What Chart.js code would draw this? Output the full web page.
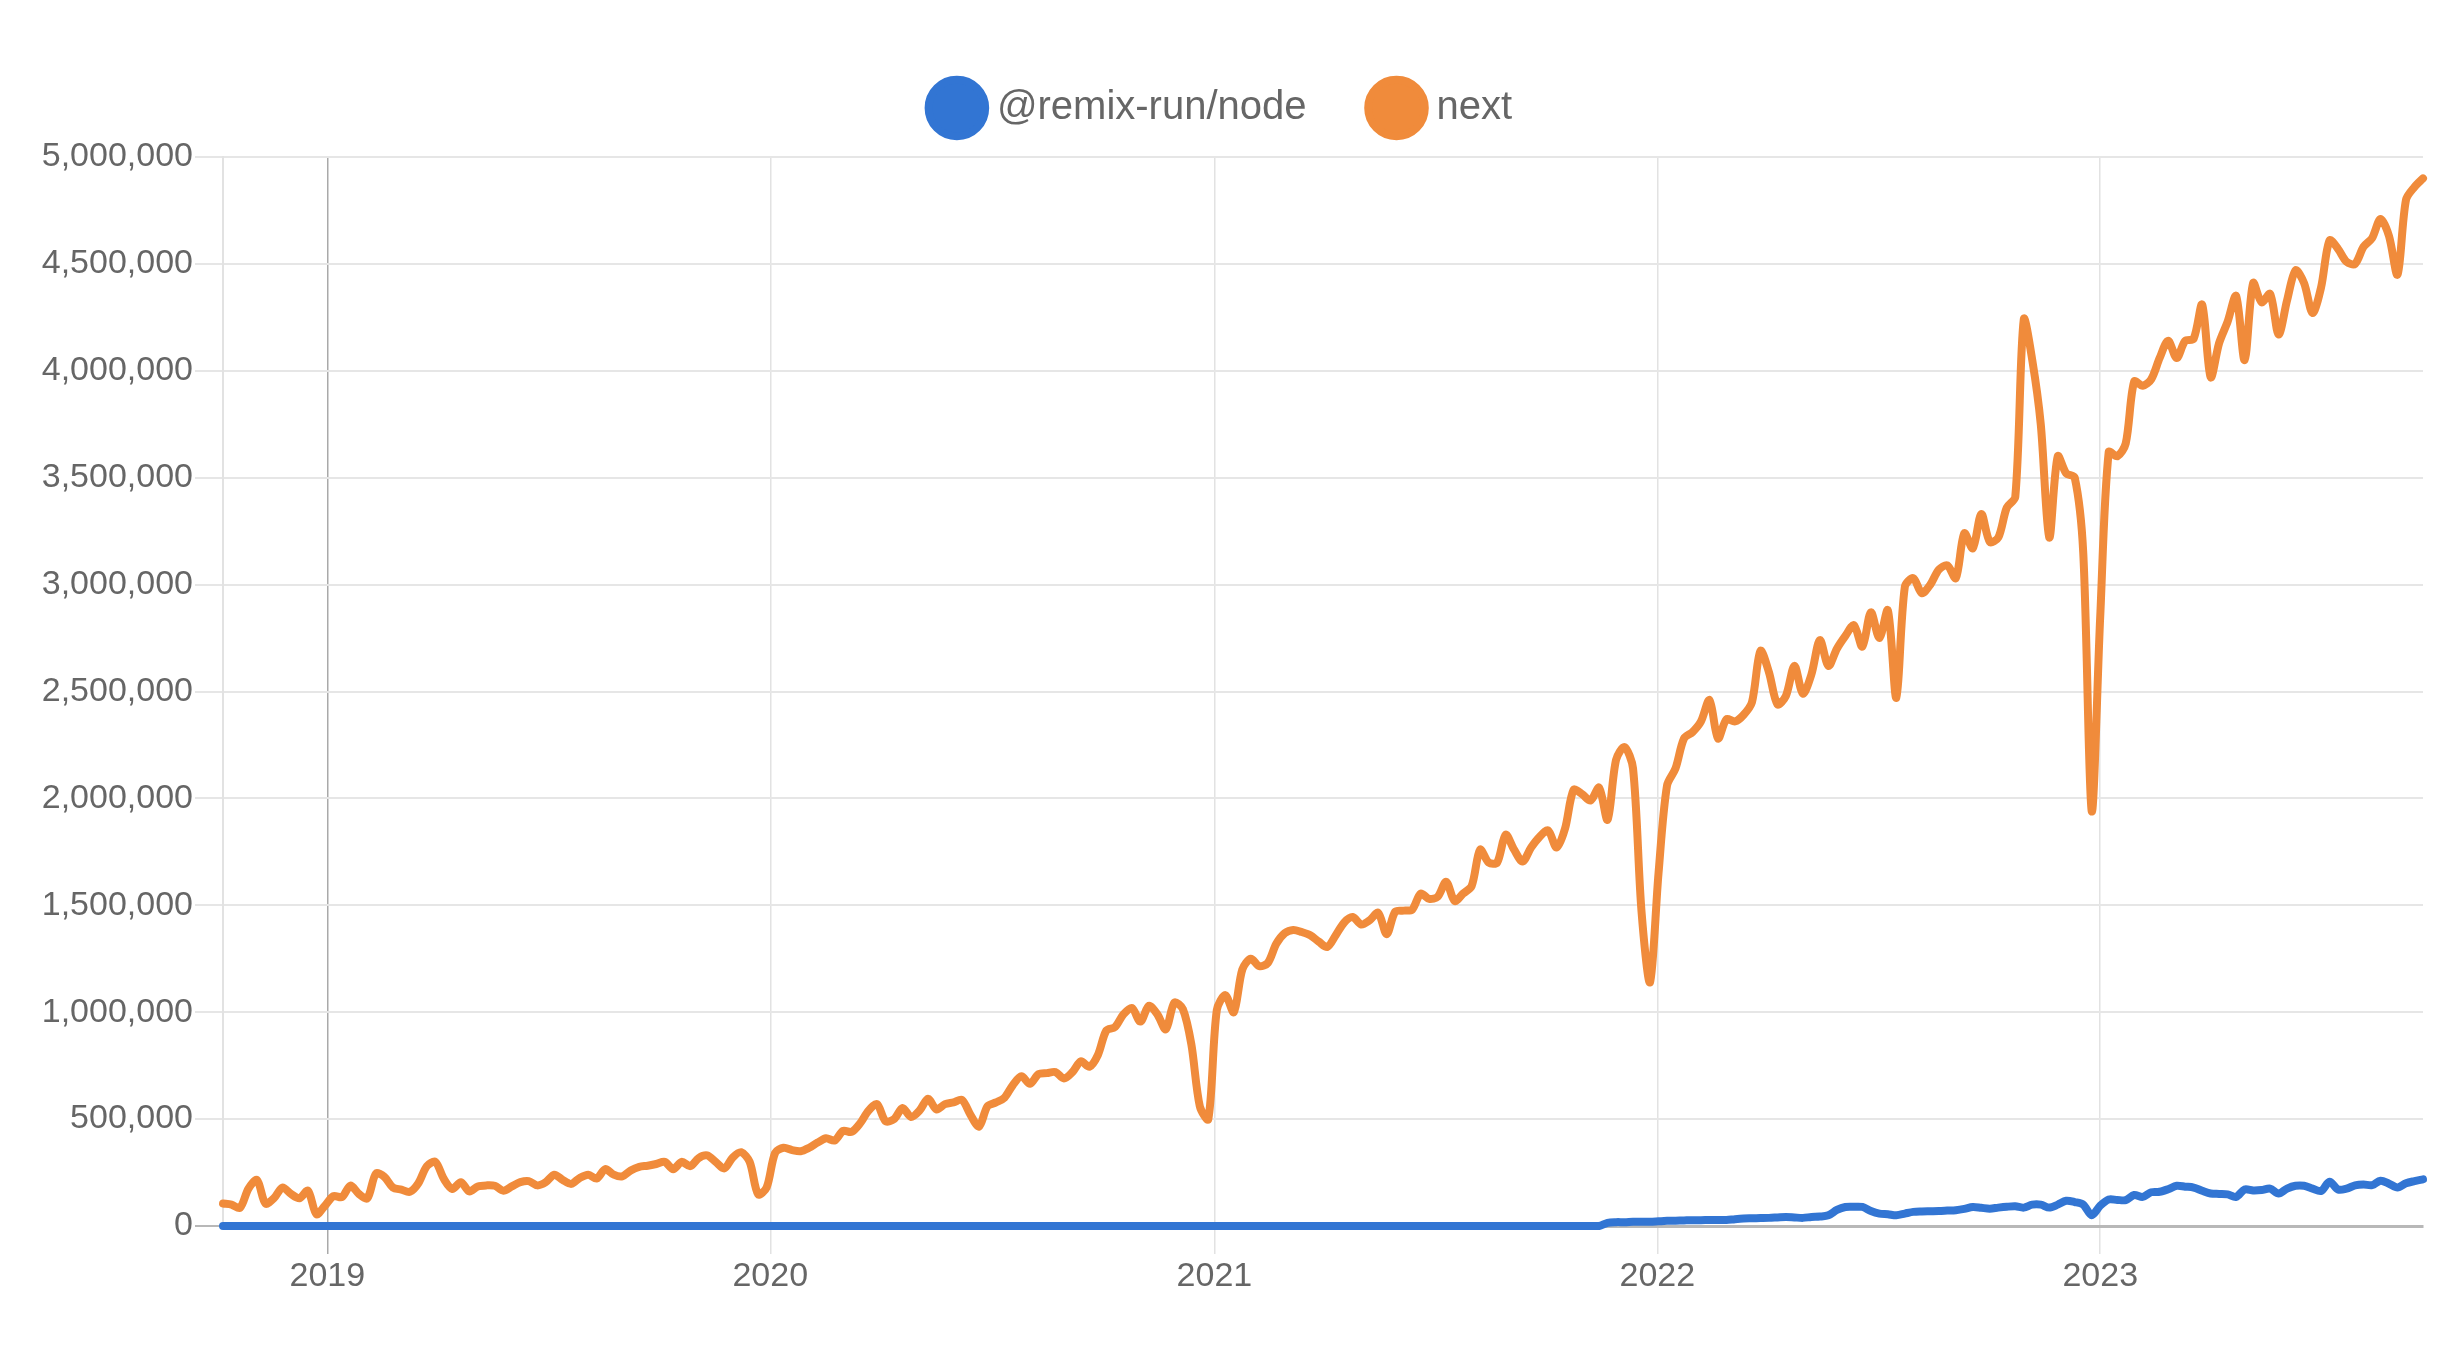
<!DOCTYPE html>
<html>
<head>
<meta charset="utf-8">
<script src="https://cdn.jsdelivr.net/npm/chart.js@4.4.0/dist/chart.umd.min.js"></script>
<style>
  html, body { margin: 0; padding: 0; background: #fff; }
  #wrap { width: 2464px; height: 1350px; position: relative; }
</style>
</head>
<body>
<div id="wrap"><canvas id="chart"></canvas></div>
<script>
// weekly downloads, first week starts 2018-10-07
const firstWeek = "2018-10-07";
const seriesNames = ["@remix-run/node", "next"];
const seriesColors = ["#3275d3", "#f08b3b"];
const yearTicks = [2019, 2020, 2021, 2022, 2023];
const yTicks = [0, 500000, 1000000, 1500000, 2000000, 2500000, 3000000, 3500000, 4000000, 4500000, 5000000];

const remixNode = [
  0, 0, 0, 0, 0, 0, 0, 0, 0, 0, 0, 0, 0, 0, 0, 0, 0, 0, 0, 0,
  0, 0, 0, 0, 0, 0, 0, 0, 0, 0, 0, 0, 0, 0, 0, 0, 0, 0, 0, 0,
  0, 0, 0, 0, 0, 0, 0, 0, 0, 0, 0, 0, 0, 0, 0, 0, 0, 0, 0, 0,
  0, 0, 0, 0, 0, 0, 0, 0, 0, 0, 0, 0, 0, 0, 0, 0, 0, 0, 0, 0,
  0, 0, 0, 0, 0, 0, 0, 0, 0, 0, 0, 0, 0, 0, 0, 0, 0, 0, 0, 0,
  0, 0, 0, 0, 0, 0, 0, 0, 0, 0, 0, 0, 0, 0, 0, 0, 0, 0, 0, 0,
  0, 0, 0, 0, 0, 0, 0, 0, 0, 0, 0, 0, 0, 0, 0, 0, 0, 0, 0, 0,
  0, 0, 0, 0, 0, 0, 0, 0, 0, 0, 0, 0, 0, 0, 0, 0, 0, 0, 0, 0,
  0, 0, 0,
  15000, 18000, 18000, 20000, 20000, 20000, 22000,
  24000, 25000, 26000, 27000, 27000, 28000, 28000, 28000, 32000, 35000,
  36000, 37000, 38000, 40000, 42000, 40000, 38000, 42000, 44000, 50000,
  75000, 89000, 90000, 89000, 70000, 58000, 55000, 50000, 58000, 66000,
  68000, 69000, 70000, 72000, 74000, 80000, 89000, 85000, 81000, 86000,
  90000, 92000, 86000, 100000, 100000, 86000, 100000, 118000, 112000, 100000,
  50000, 95000, 124000, 122000, 121000, 145000, 136000, 158000, 160000, 172000,
  188000, 184000, 180000, 165000, 152000, 150000, 148000, 136000, 171000, 166000,
  168000, 175000, 152000, 175000, 188000, 188000, 175000, 164000, 207000, 171000,
  175000, 190000, 194000, 191000, 212000, 198000, 180000, 200000, 210000, 218000
];

const next = [
  105000, 100000, 85000, 175000, 215000, 105000, 130000, 180000, 150000, 130000,
  165000, 55000, 95000, 140000, 135000, 189000, 150000, 130000, 245000, 230000,
  180000, 170000, 160000, 200000, 280000, 300000, 220000, 173000, 205000, 162000,
  185000, 190000, 188000, 165000, 185000, 205000, 210000, 190000, 205000, 240000,
  215000, 197000, 225000, 240000, 222000, 266000, 240000, 232000, 260000, 277000,
  282000, 290000, 300000, 266000, 300000, 280000, 318000, 330000, 300000, 269000,
  320000, 345000, 300000, 148000, 180000, 342000, 366000, 355000, 350000, 366000,
  390000, 410000, 400000, 445000, 440000, 480000, 540000, 570000, 490000, 500000,
  552000, 510000, 540000, 595000, 545000, 570000, 578000, 590000, 520000, 465000,
  560000, 578000, 600000, 660000, 700000, 665000, 710000, 715000, 720000, 690000,
  720000, 770000, 745000, 800000, 915000, 930000, 990000, 1020000, 956000, 1030000,
  990000, 920000, 1045000, 1015000, 850000, 560000, 500000, 1010000, 1080000, 1000000,
  1200000, 1250000, 1215000, 1230000, 1320000, 1370000, 1385000, 1375000, 1360000, 1330000,
  1305000, 1360000, 1420000, 1445000, 1410000, 1430000, 1465000, 1365000, 1470000, 1475000,
  1480000, 1555000, 1530000, 1540000, 1610000, 1520000, 1555000, 1590000, 1760000, 1700000,
  1700000, 1830000, 1760000, 1705000, 1770000, 1820000, 1850000, 1770000, 1860000, 2040000,
  2020000, 1990000, 2050000, 1900000, 2180000, 2240000, 2140000, 1470000, 1140000, 1650000,
  2060000, 2140000, 2280000, 2310000, 2360000, 2460000, 2280000, 2370000, 2360000, 2390000,
  2450000, 2690000, 2590000, 2440000, 2480000, 2620000, 2490000, 2580000, 2740000, 2620000,
  2700000, 2760000, 2810000, 2710000, 2870000, 2750000, 2880000, 2470000, 2990000, 3030000,
  2960000, 3000000, 3070000, 3090000, 3030000, 3240000, 3170000, 3330000, 3200000, 3220000,
  3360000, 3410000, 4240000, 4050000, 3750000, 3220000, 3600000, 3520000, 3500000, 3150000,
  1940000, 2850000, 3620000, 3600000, 3660000, 3950000, 3930000, 3960000, 4060000, 4140000,
  4060000, 4140000, 4150000, 4310000, 3970000, 4130000, 4230000, 4350000, 4050000, 4410000,
  4320000, 4360000, 4170000, 4330000, 4470000, 4410000, 4270000, 4390000, 4610000, 4570000,
  4510000, 4500000, 4580000, 4620000, 4710000, 4630000, 4450000, 4800000, 4860000, 4900000
];

const DAY = 86400000;
const start = Date.parse(firstWeek + "T00:00:00Z");
const weekX = next.map((v, i) => start + i * 7 * DAY);
const jan2019 = Date.UTC(2019, 0, 1);

const FONT = "'Liberation Sans', Arial, Helvetica, sans-serif";
const textColor = "#666";

function toPoints(values) {
  return values.map((v, i) => ({ x: weekX[i], y: v }));
}

// push the plot area down a bit below the legend
const legendGap = {
  id: "legendGap",
  beforeInit(chart) {
    const origFit = chart.legend.fit;
    chart.legend.fit = function () {
      origFit.call(this);
      this.height += 19;
    };
  }
};

const ctx = document.getElementById("chart").getContext("2d");
new Chart(ctx, {
  type: "line",
  data: {
    datasets: [
      {
        label: seriesNames[0],
        data: toPoints(remixNode),
        borderColor: seriesColors[0],
        backgroundColor: seriesColors[0],
        borderWidth: 8,
        borderJoinStyle: "round",
        borderCapStyle: "round",
        pointRadius: 0,
        tension: 0.3,
        clip: 8
      },
      {
        label: seriesNames[1],
        data: toPoints(next),
        borderColor: seriesColors[1],
        backgroundColor: seriesColors[1],
        borderWidth: 8,
        borderJoinStyle: "round",
        borderCapStyle: "round",
        pointRadius: 0,
        tension: 0.3,
        clip: 8
      }
    ]
  },
  plugins: [legendGap],
  options: {
    responsive: true,
    maintainAspectRatio: false,
    animation: false,
    devicePixelRatio: 1,
    layout: { padding: { top: 18, right: 41, left: 26, bottom: 0 } },
    plugins: {
      tooltip: { enabled: false },
      legend: {
        position: "top",
        labels: {
          usePointStyle: true,
          pointStyle: "circle",
          boxWidth: 40,
          boxHeight: 40,
          padding: 70,
          color: textColor,
          font: { family: FONT, size: 40 }
        }
      }
    },
    scales: {
      x: {
        type: "linear",
        min: weekX[0],
        max: weekX[weekX.length - 1],
        afterBuildTicks: axis => {
          axis.ticks = yearTicks.map(y => ({ value: Date.UTC(y, 0, 1) }));
        },
        afterFit: axis => { axis.height = 124; },
        ticks: {
          autoSkip: false,
          maxRotation: 0,
          padding: 2,
          color: textColor,
          font: { family: FONT, size: 34 },
          callback: v => String(new Date(v).getUTCFullYear())
        },
        grid: {
          color: c => (c.tick && c.tick.value === jan2019) ? "#a9a9a9" : "#e2e2e2",
          lineWidth: 1.5,
          tickLength: 28
        },
        border: { color: "#b8b8b8", width: 3 }
      },
      y: {
        min: 0,
        max: 5000000,
        afterBuildTicks: axis => {
          axis.ticks = yTicks.map(v => ({ value: v }));
        },
        afterFit: axis => { axis.width = 197; },
        ticks: {
          padding: 2,
          color: textColor,
          font: { family: FONT, size: 34 },
          callback: v => Number(v).toLocaleString("en-US")
        },
        grid: {
          color: c => (c.tick && c.tick.value === 0) ? "#b8b8b8" : "#e6e6e6",
          lineWidth: 2,
          tickLength: 28
        },
        border: { color: "#e2e2e2", width: 2 }
      }
    }
  }
});
</script>
</body>
</html>
